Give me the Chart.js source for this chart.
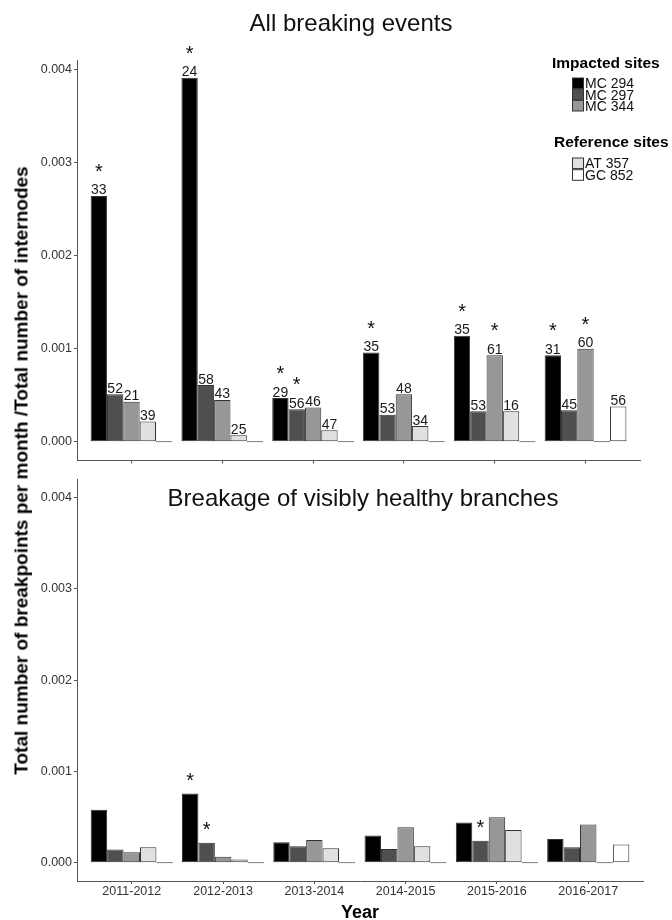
<!DOCTYPE html>
<html><head><meta charset="utf-8">
<script src="https://cdn.jsdelivr.net/npm/chart.js@4/dist/chart.umd.min.js"></script>
<style>
html,body{margin:0;padding:0;background:#fff;}
#wrap{position:relative;width:672px;height:920px;overflow:hidden;background:#fff;}
canvas{position:absolute;left:0;}
#ytitle{position:absolute;left:-329.7px;top:460.5px;width:700px;height:19px;line-height:19px;text-align:center;
  font:bold 19px "Liberation Sans", Arial, sans-serif;color:#000;transform:rotate(-90deg);white-space:nowrap;}
</style></head><body>
<div id="wrap">
<canvas id="cTop" width="672" height="470" style="top:0px"></canvas>
<canvas id="cBottom" width="672" height="450" style="top:470px"></canvas>
<div id="ytitle">Total number of breakpoints per month /Total number of internodes</div>
</div>
<script>
// ---------- data ----------
const years = ['2011-2012', '2012-2013', '2013-2014', '2014-2015', '2015-2016', '2016-2017'];
const siteNames = ['MC 294', 'MC 297', 'MC 344', 'AT 357', 'GC 852'];
const yTicks = [0, 0.001, 0.002, 0.003, 0.004];

// Panel 1: All breaking events
const allMC294 = [0.00264, 0.00391, 0.00047, 0.00096, 0.00114, 0.00093];
const allMC297 = [0.00051, 0.00061, 0.00035, 0.00029, 0.00033, 0.00034];
const allMC344 = [0.00043, 0.00045, 0.00037, 0.00051, 0.00093, 0.00100];
const allAT357 = [0.00022, 0.00007, 0.000125, 0.00017, 0.00033, 0];
const allGC852 = [0, 0, 0, 0, 0, 0.00038];
// sample sizes printed above bars
const nMC294 = [33, 24, 29, 35, 35, 31];
const nMC297 = [52, 58, 56, 53, 53, 45];
const nMC344 = [21, 43, 46, 48, 61, 60];
const nAT357 = [39, 25, 47, 34, 16, null];
const nGC852 = [null, null, null, null, null, 56];
// significance stars (1 = star)
const allStarMC294 = [1, 1, 1, 1, 1, 1];
const allStarMC297 = [0, 0, 1, 0, 0, 0];
const allStarMC344 = [0, 0, 0, 0, 1, 1];
const allStarAT357 = [0, 0, 0, 0, 0, 0];
const allStarGC852 = [0, 0, 0, 0, 0, 0];

// Panel 2: Breakage of visibly healthy branches
const healthyMC294 = [0.00058, 0.00076, 0.000225, 0.00030, 0.00044, 0.00026];
const healthyMC297 = [0.000145, 0.00022, 0.00018, 0.00015, 0.00024, 0.00017];
const healthyMC344 = [0.000115, 0.000065, 0.00025, 0.00039, 0.00050, 0.00042];
const healthyAT357 = [0.00017, 0.000035, 0.00016, 0.00018, 0.00036, 0];
const healthyGC852 = [0, 0, 0, 0, 0, 0.00020];
const healthyStarMC294 = [0, 1, 0, 0, 0, 0];
const healthyStarMC297 = [0, 1, 0, 0, 1, 0];
const healthyStarMC344 = [0, 0, 0, 0, 0, 0];
const healthyStarAT357 = [0, 0, 0, 0, 0, 0];
const healthyStarGC852 = [0, 0, 0, 0, 0, 0];

// ---------- styles ----------
const FONT = '"Liberation Sans", Arial, Helvetica, sans-serif';
const siteColors = ['#000000', '#4f4f4f', '#979797', '#e0e0e0', '#ffffff'];
const edgeColor = '#333333';
const axisColor = '#555555';
Chart.defaults.font.family = FONT;

function makeDatasets(seriesList) {
  return seriesList.map((vals, i) => ({
    label: siteNames[i],
    data: vals.map((v, j) => ({ x: j + 1, y: v })),
    backgroundColor: siteColors[i],
    borderColor: edgeColor,
    borderWidth: 1,
    borderSkipped: false,
    minBarLength: 1,
    categoryPercentage: 0.9,
    barPercentage: 1.0
  }));
}

function panelPlugin(cfg) {
  return {
    id: 'panel_' + cfg.id,
    afterDatasetsDraw(chart) {
      const ctx = chart.ctx;
      ctx.save();
      ctx.fillStyle = '#111';
      ctx.textAlign = 'center';
      ctx.textBaseline = 'alphabetic';
      ctx.font = '24px ' + FONT;
      ctx.fillText(cfg.title, cfg.titleX, cfg.titleY);
      chart.data.datasets.forEach((ds, di) => {
        const meta = chart.getDatasetMeta(di);
        meta.data.forEach((bar, j) => {
          const n = cfg.counts ? cfg.counts[di][j] : null;
          if (n !== null && n !== undefined) {
            ctx.font = '14px ' + FONT;
            ctx.fillStyle = '#1a1a1a';
            ctx.fillText(String(n), bar.x, bar.y - 1.5);
          }
          if (cfg.stars[di][j]) {
            ctx.font = '20px ' + FONT;
            ctx.fillStyle = '#111';
            ctx.fillText('*', bar.x, bar.y - cfg.starLift);
          }
        });
      });
      if (cfg.legend) drawLegend(ctx);
      ctx.restore();
    }
  };
}

function drawLegend(ctx) {
  ctx.textAlign = 'left';
  ctx.textBaseline = 'alphabetic';
  ctx.fillStyle = '#000';
  ctx.font = 'bold 15.5px ' + FONT;
  ctx.fillText('Impacted sites', 552, 68);
  ctx.fillText('Reference sites', 554, 146.5);
  const rows = [83.3, 94.5, 105.7, 163.3, 175];
  rows.forEach((c, i) => {
    ctx.fillStyle = siteColors[i];
    ctx.fillRect(572, c - 5.3, 11.5, 10.6);
    ctx.strokeStyle = edgeColor;
    ctx.lineWidth = 1;
    ctx.strokeRect(572.5, c - 5.3, 11, 10.6);
    ctx.fillStyle = '#111';
    ctx.font = '14px ' + FONT;
    ctx.fillText(siteNames[i], 585, c + 5);
  });
}

function makeChart(canvasId, cfg) {
  return new Chart(document.getElementById(canvasId), {
    type: 'bar',
    data: { datasets: makeDatasets(cfg.series) },
    options: {
      responsive: false,
      animation: false,
      devicePixelRatio: 1,
      layout: { padding: cfg.padding },
      plugins: { legend: { display: false }, tooltip: { enabled: false }, title: { display: false } },
      scales: {
        x: {
          type: 'linear',
          min: 0.4, max: 6.6,
          offset: false,
          afterBuildTicks: s => { s.ticks = years.map((_, i) => ({ value: i + 1 })); },
          afterFit: s => { s.height = cfg.xHeight; },
          grid: { display: true, drawOnChartArea: false, drawTicks: true, tickLength: 3, color: axisColor, offset: false },
          border: { display: true, color: axisColor, width: 1 },
          ticks: {
            padding: 0,
            autoSkip: false,
            maxRotation: 0,
            color: '#333',
            font: { size: 12.5 },
            callback: v => cfg.showXLabels ? (years[Math.round(v) - 1] || '') : ''
          },
          title: cfg.showXLabels ? {
            display: true, text: 'Year', color: '#000',
            font: { size: 18, weight: 'bold', lineHeight: 0.8 },
            padding: { top: 0, bottom: 0 }
          } : { display: false }
        },
        y: {
          type: 'linear',
          min: cfg.yMin, max: cfg.yMax,
          afterBuildTicks: s => { s.ticks = yTicks.map(v => ({ value: v })); },
          afterFit: s => { s.width = 77; },
          grid: { display: true, drawOnChartArea: false, drawTicks: true, tickLength: 3, color: axisColor },
          border: { display: true, color: axisColor, width: 1 },
          ticks: { padding: 2, color: '#333', font: { size: 12.5 }, callback: v => Number(v).toFixed(3) }
        }
      }
    },
    plugins: [panelPlugin(cfg)]
  });
}

makeChart('cTop', {
  id: 'top',
  series: [allMC294, allMC297, allMC344, allAT357, allGC852],
  counts: [nMC294, nMC297, nMC344, nAT357, nGC852],
  stars: [allStarMC294, allStarMC297, allStarMC344, allStarAT357, allStarGC852],
  starLift: 17.8,
  title: 'All breaking events', titleX: 351, titleY: 31,
  padding: { top: 60, right: 32, left: 0, bottom: 0 },
  xHeight: 7, showXLabels: false, yMin: -0.0002, yMax: 0.0041, legend: true
});

makeChart('cBottom', {
  id: 'bottom',
  series: [healthyMC294, healthyMC297, healthyMC344, healthyAT357, healthyGC852],
  counts: null,
  stars: [healthyStarMC294, healthyStarMC297, healthyStarMC344, healthyStarAT357, healthyStarGC852],
  starLift: 6.8,
  title: 'Breakage of visibly healthy branches', titleX: 363, titleY: 36,
  padding: { top: 8, right: 29, left: 0, bottom: 0 },
  xHeight: 39, showXLabels: true, yMin: -0.0002, yMax: 0.0042, legend: false
});
</script>
</body></html>
